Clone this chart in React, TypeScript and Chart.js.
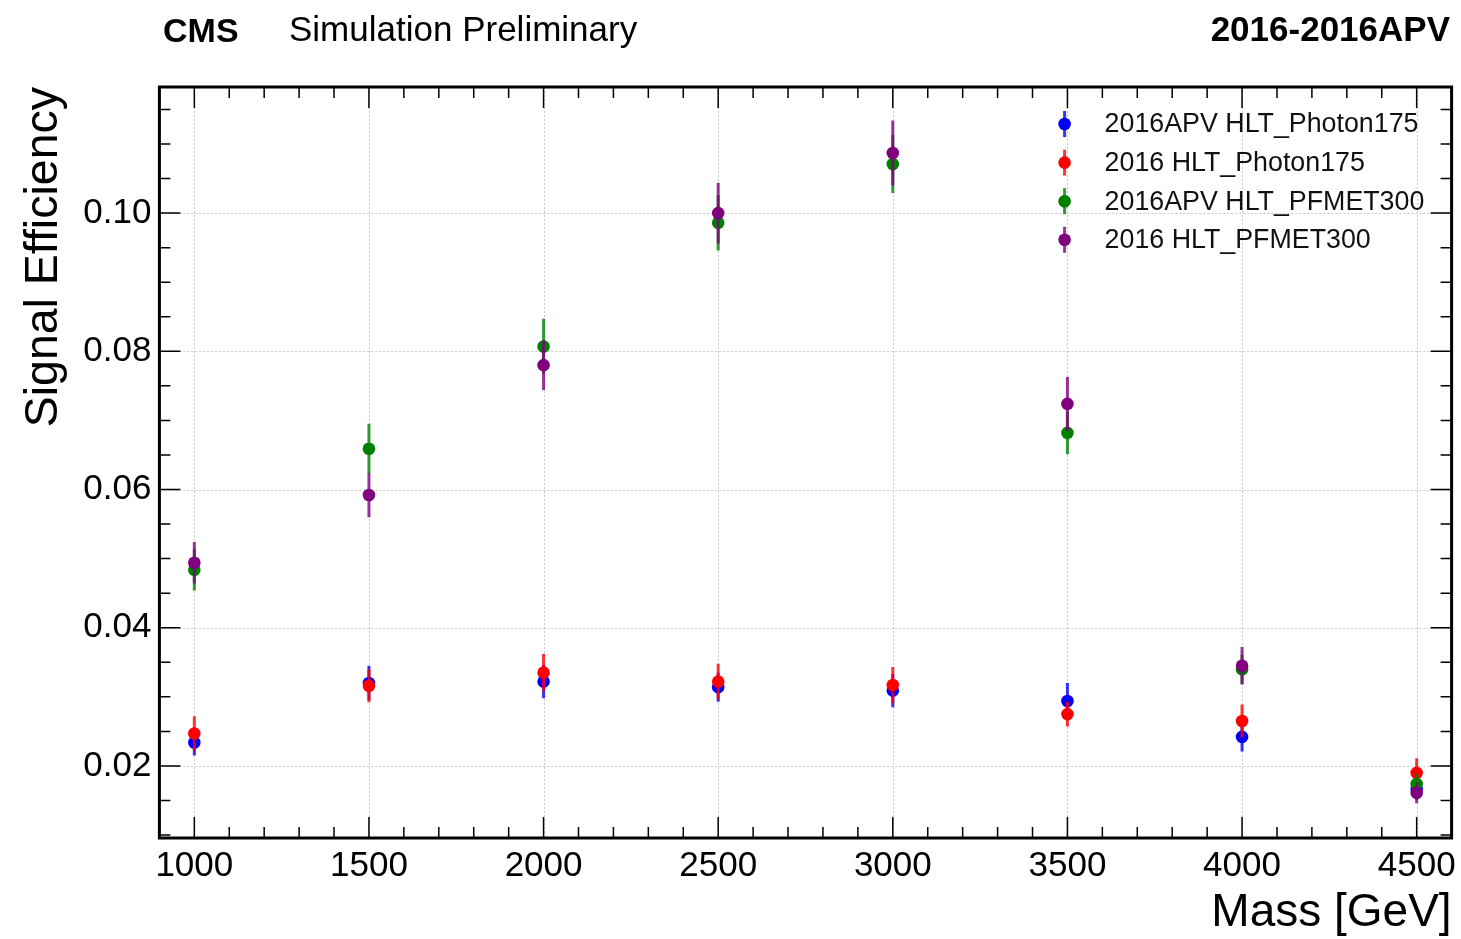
import React, { useEffect, useRef } from "react";
import { Chart, registerables } from "chart.js";

Chart.register(...registerables);

// ---------------- data ----------------
const masses = [1000, 1500, 2000, 2500, 3000, 3500, 4000, 4500];

const seriesLabels = [
  "2016APV HLT_Photon175",
  "2016 HLT_Photon175",
  "2016APV HLT_PFMET300",
  "2016 HLT_PFMET300",
];
const seriesColors = ["#0000ff", "#ff0000", "#008000", "#800080"];
const seriesBarColors = [
  "rgba(0,0,255,0.8)",
  "rgba(255,0,0,0.8)",
  "rgba(0,128,0,0.8)",
  "rgba(128,0,128,0.8)",
];

const apvPhotonEff = [0.0234, 0.032, 0.0322, 0.0314, 0.0309, 0.0294, 0.0242, 0.0167];
const apvPhotonErr = [0.0019, 0.0025, 0.0024, 0.0021, 0.0024, 0.0026, 0.0021, 0.0016];

const photonEff = [0.0247, 0.0316, 0.0335, 0.0322, 0.0317, 0.0275, 0.0265, 0.019];
const photonErr = [0.0025, 0.0024, 0.0027, 0.0026, 0.0026, 0.0018, 0.0024, 0.0021];

const apvMetEff = [0.0484, 0.0659, 0.0807, 0.0986, 0.1071, 0.0682, 0.034, 0.0174];
const apvMetErr = [0.003, 0.0036, 0.004, 0.004, 0.0042, 0.0031, 0.0021, 0.0016];

const metEff = [0.0494, 0.0592, 0.078, 0.1, 0.1087, 0.0724, 0.0345, 0.0161];
const metErr = [0.003, 0.0032, 0.0036, 0.0044, 0.0047, 0.0039, 0.0027, 0.0015];

const seriesValues = [apvPhotonEff, photonEff, apvMetEff, metEff];
const seriesErrors = [apvPhotonErr, photonErr, apvMetErr, metErr];

const xMajorTicks = [1000, 1500, 2000, 2500, 3000, 3500, 4000, 4500];
const xMinorStep = 100;
const yMajorTicks = [0.02, 0.04, 0.06, 0.08, 0.1];
const yMinorStep = 0.005;

const xRange = [900, 4600];
const yRange = [0.00957, 0.11825];

const FONT = "'Liberation Sans', Arial, Helvetica, sans-serif";

// ---------------- plugins ----------------
const gridPlugin = {
  id: "cmsGrid",
  beforeDatasetsDraw(chart: any) {
    const { ctx, chartArea: a, scales } = chart;
    const xs = scales.x, ys = scales.y;
    ctx.save();
    ctx.strokeStyle = "rgba(0,0,0,0.22)";
    ctx.lineWidth = 1;
    ctx.setLineDash([2, 2]);
    for (const v of xMajorTicks) {
      const px = Math.round(xs.getPixelForValue(v)) + 0.5;
      ctx.beginPath();
      ctx.moveTo(px, a.top);
      ctx.lineTo(px, a.bottom);
      ctx.stroke();
    }
    for (const v of yMajorTicks) {
      const py = Math.round(ys.getPixelForValue(v)) + 0.5;
      ctx.beginPath();
      ctx.moveTo(a.left, py);
      ctx.lineTo(a.right, py);
      ctx.stroke();
    }
    ctx.restore();
  },
};

const errorBarPlugin = {
  id: "errorBars",
  beforeDatasetDraw(chart: any, args: any) {
    const i = args.index;
    const vals = seriesValues[i];
    const errs = seriesErrors[i];
    if (!vals) return;
    const { ctx, chartArea: a, scales } = chart;
    ctx.save();
    ctx.beginPath();
    ctx.rect(a.left, a.top, a.right - a.left, a.bottom - a.top);
    ctx.clip();
    ctx.strokeStyle = seriesBarColors[i];
    ctx.lineWidth = 3;
    for (let j = 0; j < masses.length; j++) {
      const px = scales.x.getPixelForValue(masses[j]);
      const y1 = scales.y.getPixelForValue(vals[j] - errs[j]);
      const y2 = scales.y.getPixelForValue(vals[j] + errs[j]);
      ctx.beginPath();
      ctx.moveTo(px, y1);
      ctx.lineTo(px, y2);
      ctx.stroke();
    }
    ctx.restore();
  },
};

const framePlugin = {
  id: "cmsFrame",
  afterDatasetsDraw(chart: any) {
    const { ctx, chartArea: a, scales } = chart;
    const xs = scales.x, ys = scales.y;
    const majorLen = 21, minorLen = 11;
    ctx.save();
    ctx.strokeStyle = "#000";
    ctx.lineWidth = 1.5;
    // x ticks (bottom & top)
    for (let v = xRange[0]; v <= xRange[1] + 1e-9; v += xMinorStep) {
      const isMajor = xMajorTicks.includes(v);
      const len = isMajor ? majorLen : minorLen;
      const px = xs.getPixelForValue(v);
      if (px <= a.left + 1 || px >= a.right - 1) continue;
      ctx.beginPath();
      ctx.moveTo(px, a.bottom);
      ctx.lineTo(px, a.bottom - len);
      ctx.moveTo(px, a.top);
      ctx.lineTo(px, a.top + len);
      ctx.stroke();
    }
    // y ticks (left & right)
    for (let k = 1; k * yMinorStep <= yRange[1]; k++) {
      const v = k * yMinorStep;
      if (v < yRange[0]) continue;
      const isMajor = k % 4 === 0;
      const len = isMajor ? majorLen : minorLen;
      const py = ys.getPixelForValue(v);
      ctx.beginPath();
      ctx.moveTo(a.left, py);
      ctx.lineTo(a.left + len, py);
      ctx.moveTo(a.right, py);
      ctx.lineTo(a.right - len, py);
      ctx.stroke();
    }
    // frame
    ctx.lineWidth = 3;
    ctx.strokeRect(a.left, a.top, a.right - a.left, a.bottom - a.top);
    ctx.restore();
  },
};

const legendPlugin = {
  id: "cmsLegend",
  afterDraw(chart: any) {
    const { ctx, chartArea: a } = chart;
    const markerX = a.right - 387;
    const textX = a.right - 347;
    const firstY = a.top + 37;
    const rowH = 38.6;
    ctx.save();
    chart.data.datasets.forEach((ds: any, i: number) => {
      const y = firstY + i * rowH;
      ctx.strokeStyle = seriesBarColors[i];
      ctx.lineWidth = 3;
      ctx.beginPath();
      ctx.moveTo(markerX, y - 13);
      ctx.lineTo(markerX, y + 13);
      ctx.stroke();
      ctx.fillStyle = seriesColors[i];
      ctx.beginPath();
      ctx.arc(markerX, y, 6.3, 0, Math.PI * 2);
      ctx.fill();
      ctx.fillStyle = "#111";
      ctx.font = `26.8px ${FONT}`;
      ctx.textAlign = "left";
      ctx.textBaseline = "middle";
      ctx.fillText(ds.label, textX, y + 1);
    });
    ctx.restore();
  },
};

export default function App() {
  const ref = useRef<HTMLCanvasElement | null>(null);

  useEffect(() => {
    const canvas = ref.current;
    if (!canvas) return;
    const datasets = seriesLabels.map((label, i) => ({
      label,
      data: masses.map((m, j) => ({ x: m, y: seriesValues[i][j] })),
      backgroundColor: seriesColors[i],
      borderColor: seriesColors[i],
      pointRadius: 6.3,
      pointHoverRadius: 6.3,
      pointBorderWidth: 0,
      borderWidth: 0,
      showLine: false,
      order: seriesLabels.length - i,
    }));

    const chart = new Chart(canvas, {
      type: "scatter",
      data: { datasets },
      options: {
        animation: false,
        responsive: false,
        devicePixelRatio: 1,
        events: [],
        layout: { padding: { top: 87, right: 9.4, left: 0, bottom: 0 } },
        plugins: {
          legend: { display: false },
          tooltip: { enabled: false },
        },
        scales: {
          x: {
            type: "linear",
            min: xRange[0],
            max: xRange[1],
            afterBuildTicks: (s: any) => {
              s.ticks = xMajorTicks.map((v) => ({ value: v }));
            },
            afterFit: (s: any) => {
              s.height = 101;
              s.paddingLeft = 0;
              s.paddingRight = 0;
            },
            grid: { display: false, drawTicks: false },
            border: { display: false },
            ticks: {
              autoSkip: false,
              maxRotation: 0,
              padding: 7,
              color: "#000",
              font: { family: FONT, size: 35 },
              callback: (v: any) => String(v),
            },
            title: {
              display: true,
              text: "Mass [GeV]",
              align: "end",
              color: "#000",
              font: { family: FONT, size: 46, lineHeight: 1.1 },
              padding: { top: 0, bottom: 0 },
            },
          },
          y: {
            type: "linear",
            min: yRange[0],
            max: yRange[1],
            afterBuildTicks: (s: any) => {
              s.ticks = yMajorTicks.map((v) => ({ value: v }));
            },
            afterFit: (s: any) => {
              s.width = 159.4;
              s.paddingTop = 0;
              s.paddingBottom = 0;
            },
            grid: { display: false, drawTicks: false },
            border: { display: false },
            ticks: {
              padding: 8,
              color: "#000",
              font: { family: FONT, size: 35 },
              callback: (v: any) => Number(v).toFixed(2),
            },
            title: {
              display: true,
              text: "Signal Efficiency",
              align: "end",
              color: "#000",
              font: { family: FONT, size: 46.5 },
              padding: { top: 16, bottom: 0 },
            },
          },
        },
      },
      plugins: [gridPlugin, errorBarPlugin, framePlugin, legendPlugin],
    } as any);

    return () => chart.destroy();
  }, []);

  const headerBase: React.CSSProperties = {
    position: "absolute",
    fontFamily: FONT,
    fontSize: 34,
    lineHeight: "34px",
    color: "#000",
    whiteSpace: "nowrap",
    top: 13,
  };

  return (
    <div
      style={{
        position: "fixed",
        left: 0,
        top: 0,
        width: 1461,
        height: 939,
        background: "#fff",
        overflow: "hidden",
      }}
    >
      <canvas
        ref={ref}
        width={1461}
        height={939}
        style={{ position: "absolute", left: 0, top: 0, width: 1461, height: 939 }}
      />
      <div style={{ ...headerBase, left: 163, fontWeight: "bold" }}>CMS</div>
      <div style={{ ...headerBase, left: 289, fontSize: 35, top: 12 }}>Simulation Preliminary</div>
      <div style={{ ...headerBase, right: 11, fontWeight: "bold", fontSize: 35, top: 12 }}>2016-2016APV</div>
    </div>
  );
}
